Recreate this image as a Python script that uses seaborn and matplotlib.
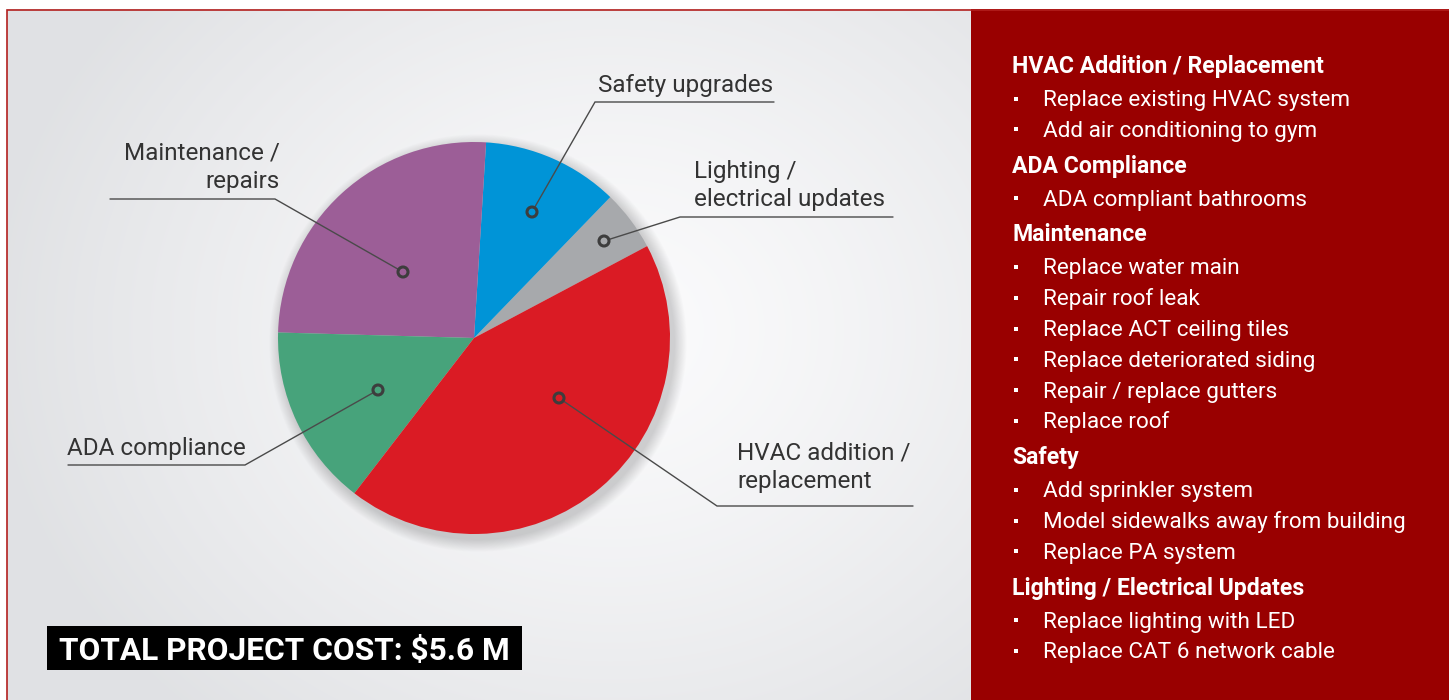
import numpy as np
import matplotlib
matplotlib.use("Agg")
import matplotlib.pyplot as plt
from matplotlib.patches import Rectangle, Circle
import seaborn as sns

# slice data (share of the $5.6 M total, in $M), counterclockwise from the right
categories = ["Lighting / electrical updates", "Safety upgrades", "Maintenance / repairs",
              "ADA compliance", "HVAC addition / replacement"]
cost_m = [0.28, 0.63, 1.43, 0.84, 2.42]
slice_colors = ["#a7a9ac", "#0094d7", "#9c5e97", "#47a37b", "#da1b24"]

# callout labels
label_text = ["Lighting /\nelectrical updates", "Safety upgrades", "Maintenance /\nrepairs",
              "ADA compliance", "HVAC addition /\nreplacement"]

total_label = "TOTAL PROJECT COST: $5.6 M"

# right-hand project list
headings = ["HVAC Addition / Replacement", "ADA Compliance", "Maintenance", "Safety",
            "Lighting / Electrical Updates"]
items = [
    ["Replace existing HVAC system", "Add air conditioning to gym"],
    ["ADA compliant bathrooms"],
    ["Replace water main", "Repair roof leak", "Replace ACT ceiling tiles",
     "Replace deteriorated siding", "Repair / replace gutters", "Replace roof"],
    ["Add sprinkler system", "Model sidewalks away from building", "Replace PA system"],
    ["Replace lighting with LED", "Replace CAT 6 network cable"],
]

sns.set_theme(style="white")
plt.rcParams['font.family'] = ['Roboto', 'DejaVu Sans']

W, H = 1449, 700
fig = plt.figure(figsize=(W / 100, H / 100), dpi=100)
ax = fig.add_axes([0, 0, 1, 1])


def Y(y):
    # image pixel row -> axes y (origin bottom)
    return H - y


# radial grey background of the chart panel
gx, gy = np.meshgrid(np.arange(7, 972), np.arange(9, 700))
d = np.sqrt(((gx - 610) / 620) ** 2 + ((gy - 330) / 520) ** 2)
d = np.clip(d, 0, 1) ** 1.3
c0 = np.array([0.985, 0.985, 0.99])
c1 = np.array([0.88, 0.885, 0.895])
img = c0[None, None, :] * (1 - d[..., None]) + c1[None, None, :] * d[..., None]
ax.imshow(img, extent=(7, 972, Y(700), Y(9)), origin="upper", zorder=0, aspect="auto")

# red side panel and thin frame
ax.add_patch(Rectangle((971, 0), W - 971, Y(9), color="#990000", zorder=1, lw=0))
ax.add_patch(Rectangle((6.5, -5), W, Y(9) + 5 - 0.5, fill=False, ec="#b3201f", lw=1.2, zorder=2))

# pie shadow
cx, cy, R = 474, Y(338), 196
for i in range(14):
    ax.add_patch(Circle((cx + 4, cy - 5), R + 1 + i * 0.9, color="black", alpha=0.012, lw=0, zorder=2))

ax.pie(cost_m, colors=slice_colors, startangle=27.96, counterclock=True,
       center=(cx, cy), radius=R, frame=True, wedgeprops=dict(linewidth=0, zorder=3))

# callouts: dot, elbow, horizontal rule end, text anchor (last line baseline), alignment
callouts = [
    ((604, 241), (680, 217), 893, (694, 206), "left"),
    ((532, 212), (595, 102), 774, (598, 92), "left"),
    ((403, 272), (275, 199), 110, (280, 188), "right"),
    ((378, 390), (245, 465), 68, (246, 455), "right"),
    ((559, 398), (717, 506), 913, (737, 488), "left"),
]
for (dot, elbow, end, tpos, ha), txt, col in zip(callouts, label_text, slice_colors):
    ax.plot([dot[0], elbow[0], end], [Y(dot[1]), Y(elbow[1]), Y(elbow[1])],
            color="#4a4a4a", lw=1.0, zorder=4, solid_joinstyle="miter")
    ax.add_patch(Circle((dot[0], Y(dot[1])), 5, fc=col, ec="#3d3d3d", lw=2.2, zorder=5))
    ax.text(tpos[0], Y(tpos[1]), txt, ha=ha, va="baseline", fontsize=17.5,
            color="#333333", linespacing=1.3, zorder=5)

# total cost box
ax.add_patch(Rectangle((47, Y(670)), 475, 44, color="black", lw=0, zorder=4))
ax.text(59, Y(660), total_label, ha="left", va="baseline", fontsize=22.8,
        fontweight="bold", color="white", zorder=5)

# project list
y = 73
for head, sub in zip(headings, items):
    ax.text(1012, Y(y), head, ha="left", va="baseline", fontsize=16.6,
            fontweight="bold", color="white", zorder=5)
    y += 33
    for it in sub:
        ax.add_patch(Rectangle((1013.5, Y(y - 5.5)), 4, 4, color="white", lw=0, zorder=5))
        ax.text(1043, Y(y), it, ha="left", va="baseline", fontsize=16.2,
                color="white", zorder=5)
        y += 30.8
    y += 5

ax.set_xlim(0, W)
ax.set_ylim(0, H)
ax.set_aspect("auto")
ax.axis("off")

fig.savefig("out.png", dpi=100, facecolor="white")
